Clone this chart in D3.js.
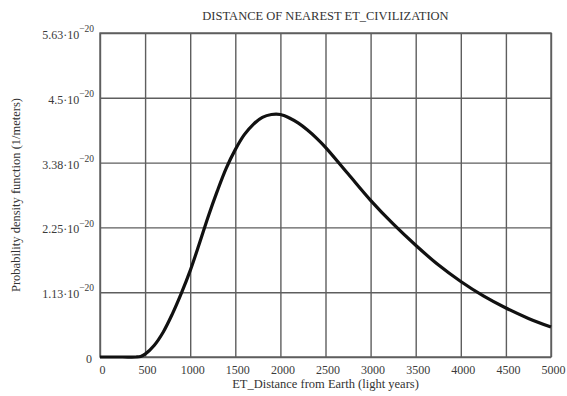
<!DOCTYPE html>
<html>
<head>
<meta charset="utf-8">
<script src="https://cdn.jsdelivr.net/npm/d3@7"></script>
<style>
  body { margin: 0; background: #fff; }
  svg { display: block; }
</style>
</head>
<body>
<div id="chart"></div>
<script>
// distance from Earth (light years) and density (x 1e-20, 1/meters)
let distance = [0, 250, 400, 450, 500, 600, 700, 800, 900, 1000, 1100, 1200, 1300, 1400, 1500,
  1600, 1700, 1800, 1900, 2000, 2100, 2200, 2300, 2400, 2500, 2750, 3000, 3250, 3500,
  3750, 4000, 4250, 4500, 4750, 5000];
let density = [0, 0, 0, 0.01, 0.05, 0.2, 0.43, 0.74, 1.1, 1.5, 1.96, 2.44, 2.88, 3.28, 3.6,
  3.86, 4.04, 4.16, 4.21, 4.21, 4.15, 4.06, 3.94, 3.8, 3.64, 3.18, 2.72, 2.31, 1.94,
  1.6, 1.31, 1.06, 0.85, 0.67, 0.52];

let xTicks = [0, 500, 1000, 1500, 2000, 2500, 3000, 3500, 4000, 4500, 5000];
let yTicks = [0, 1.125, 2.25, 3.375, 4.5, 5.625];
let yTickLabels = ["0", "1.13", "2.25", "3.38", "4.5", "5.63"];

let w = 567, h = 396;
let margin = { top: 33, right: 16, bottom: 39, left: 100 };
let iw = w - margin.left - margin.right;
let ih = h - margin.top - margin.bottom;
let font = "'Liberation Serif', 'DejaVu Serif', serif";

let svg = d3.select("#chart")
  .append("svg")
  .attr("width", w)
  .attr("height", h);

let g = svg.append("g")
  .attr("transform", "translate(" + margin.left + "," + margin.top + ")");

let xScale = d3.scaleLinear()
  .domain([0, 5000])
  .range([0, iw]);

let yScale = d3.scaleLinear()
  .domain([0, 5.625])
  .range([ih, 0]);

// x axis + vertical grid
let xAxis = g.append("g")
  .attr("transform", "translate(0," + ih + ")")
  .call(d3.axisBottom(xScale)
    .tickValues(xTicks)
    .tickSize(-ih)
    .tickPadding(8)
    .tickFormat(d3.format("d")));

// y axis + horizontal grid
let yAxis = g.append("g")
  .call(d3.axisLeft(yScale)
    .tickValues(yTicks)
    .tickSize(-iw)
    .tickPadding(4));

[xAxis, yAxis].forEach(function(a) {
  a.select(".domain").remove();
  a.selectAll(".tick line")
    .attr("stroke", "#5e5e5e")
    .attr("stroke-width", 1.4);
  a.selectAll(".tick text")
    .attr("font-family", font)
    .attr("font-size", "12px")
    .attr("fill", "#3a3a3a");
});

xAxis.selectAll(".tick text").attr("dx", 2);

// y labels with 10^-20 superscript
yAxis.selectAll(".tick text")
  .attr("x", -6)
  .attr("dy", "0.45em")
  .text(null)
  .each(function(d, i) {
    let t = d3.select(this);
    if (i === 0) {
      t.attr("x", -8).text(yTickLabels[i]);
      return;
    }
    t.append("tspan").text(yTickLabels[i] + "\u00b710");
    t.append("tspan")
      .attr("dy", "-0.7em")
      .attr("font-size", "9.5px")
      .text("\u221220");
  });

// plot border
g.append("rect")
  .attr("width", iw)
  .attr("height", ih)
  .attr("fill", "none")
  .attr("stroke", "#5e5e5e")
  .attr("stroke-width", 1.4);

// density curve
let line = d3.line()
  .x(function(d, i) { return xScale(distance[i]); })
  .y(function(d) { return yScale(d); })
  .curve(d3.curveCatmullRom.alpha(0.5));

g.append("path")
  .datum(density)
  .attr("d", line)
  .attr("fill", "none")
  .attr("stroke", "#111")
  .attr("stroke-width", 3.2)
  .attr("stroke-linejoin", "round");

// title
svg.append("text")
  .attr("x", margin.left + iw / 2)
  .attr("y", 20)
  .attr("text-anchor", "middle")
  .attr("font-family", font)
  .attr("font-size", "12.5px")
  .attr("fill", "#333")
  .text("DISTANCE OF NEAREST ET_CIVILIZATION");

// axis titles
svg.append("text")
  .attr("x", margin.left + iw / 2)
  .attr("y", 388)
  .attr("text-anchor", "middle")
  .attr("font-family", font)
  .attr("font-size", "12.5px")
  .attr("fill", "#333")
  .text("ET_Distance from Earth (light years)");

svg.append("text")
  .attr("transform", "translate(20," + (margin.top + ih / 2) + ") rotate(-90)")
  .attr("text-anchor", "middle")
  .attr("font-family", font)
  .attr("font-size", "12.5px")
  .attr("fill", "#333")
  .text("Probability density function (1/meters)");
</script>
</body>
</html>
